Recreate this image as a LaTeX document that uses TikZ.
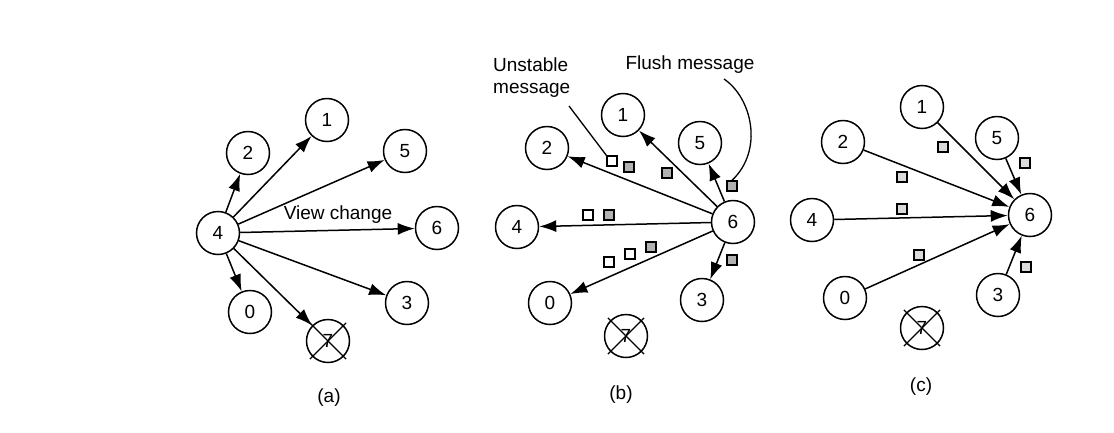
\documentclass[tikz,border=0pt]{standalone}
\usepackage{fontspec}
\setmainfont{Liberation Sans}
\usetikzlibrary{arrows.meta,calc}
\tikzset{
  nd/.style={circle, draw, line width=1.5pt, minimum size=43pt, inner sep=0pt, font=\fontsize{19}{22}\selectfont},
  arr/.style={line width=1.5pt, -{Latex[length=17pt,width=12pt]}},
  msgw/.style={draw, fill=white, minimum size=10pt, inner sep=0pt, line width=1.2pt},
  msgg/.style={msgw, fill=gray!60},
  msgc/.style={msgw, fill=gray!28},
  lbl/.style={font=\fontsize{19}{22}\selectfont, inner sep=0pt},
  lead/.style={line width=1.3pt},
}
\newcommand{\crossit}[1]{%
  \draw[line width=1.2pt] ($(#1.center)!1.15!(#1.north west)$) -- ($(#1.center)!1.15!(#1.south east)$);
  \draw[line width=1.2pt] ($(#1.center)!1.15!(#1.north east)$) -- ($(#1.center)!1.15!(#1.south west)$);}
\begin{document}
\begin{tikzpicture}[x=1pt,y=-1pt]
\useasboundingbox (0,0) rectangle (1114,432);
\fill[white] (0,0) rectangle (1114,432);
% ---------- panel (a)
\node[nd] (a4) at (218,233) {4};
\node[nd] (a2) at (248,153) {2};
\node[nd] (a1) at (327,120) {1};
\node[nd] (a5) at (405,151) {5};
\node[nd] (a6) at (437,228) {6};
\node[nd] (a3) at (407,303) {3};
\node[nd] (a0) at (250,312) {0};
\node[nd] (a7) at (328,341) {7};
\crossit{a7}
\foreach \t in {a2,a1,a5,a6,a3,a0,a7} \draw[arr] (a4) -- (\t);
\node[lbl] (avc) at (338,215) {View change};
\node[lbl] (la) at (329,398) {(a)};
% ---------- panel (b)
\node[nd] (b6) at (733,222) {6};
\node[nd] (b1) at (623,115) {1};
\node[nd] (b2) at (547,148) {2};
\node[nd] (b5) at (700,143) {5};
\node[nd] (b4) at (517,227) {4};
\node[nd] (b0) at (550,303) {0};
\node[nd] (b3) at (702,300) {3};
\node[nd] (b7) at (626,336) {7};
\crossit{b7}
\foreach \t in {b2,b1,b5,b4,b0,b3} \draw[arr] (b6) -- (\t);
\node[msgw] (bu1) at (612,161) {};
\node[msgg] (bm1) at (629,167) {};
\node[msgg] (bm2) at (667,173) {};
\node[msgg] (bfl) at (732,186) {};
\node[msgw] (bu2) at (588,215) {};
\node[msgg] (bm3) at (609,215) {};
\node[msgw] (bu3) at (609,262) {};
\node[msgw] (bu4) at (630,254) {};
\node[msgg] (bm4) at (651,247) {};
\node[msgg] (bm5) at (732,260) {};
\node[lbl, align=left, anchor=north west] (unst) at (493,58) {Unstable\\message};
\node[lbl] (flush) at (690,65) {Flush message};
\coordinate (ul) at (569,106);
\coordinate (fl) at (724,79);
\draw[lead] (ul) -- (bu1.north west);
\draw[lead] (fl) .. controls (752,98) and (764,150) .. (bfl.north);
\node[lbl] (lb) at (621,395) {(b)};
% ---------- panel (c)
\node[nd] (c6) at (1030,215) {6};
\node[nd] (c1) at (922,107) {1};
\node[nd] (c2) at (843,142) {2};
\node[nd] (c5) at (997,138) {5};
\node[nd] (c4) at (812,220) {4};
\node[nd] (c0) at (845,298) {0};
\node[nd] (c3) at (998,295) {3};
\node[nd] (c7) at (922,328) {7};
\crossit{c7}
\foreach \s in {c1,c2,c5,c4,c0,c3} \draw[arr] (\s) -- (c6);
\node[msgc] (cm1) at (943,147) {};
\node[msgc] (cm5) at (1025,163) {};
\node[msgc] (cm2) at (902,177) {};
\node[msgc] (cm4) at (902,209) {};
\node[msgc] (cm0) at (919,255) {};
\node[msgc] (cm3) at (1026,267) {};
\node[lbl] (lc) at (921,387) {(c)};
\end{tikzpicture}
\end{document}
